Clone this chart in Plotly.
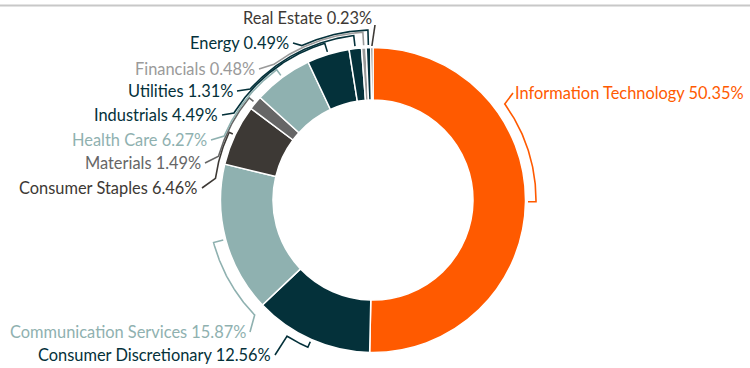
import numpy as np
import plotly.graph_objects as go

# Sector weights of the portfolio (percent), clockwise from 12 o'clock
sectors = [
    "Information Technology", "Consumer Discretionary", "Communication Services",
    "Consumer Staples", "Materials", "Health Care", "Industrials", "Utilities",
    "Financials", "Energy", "Real Estate",
]
weights = [50.35, 12.56, 15.87, 6.46, 1.49, 6.27, 4.49, 1.31, 0.48, 0.49, 0.23]
slice_colors = [
    "#FF5A00", "#04313A", "#8FB1B0", "#3D3935", "#666666", "#8FB1B0",
    "#04313A", "#04313A", "#9A9A9A", "#04313A", "#3D3935",
]

# ---- layout (pixels) ----
W, H = 750, 368
CX, CY = 373.0, 200.0
R_OUT, R_IN = 152.5, 100.0
FONT = "Lato"
FONT_SIZE = 16.4

# label anchor: right end for left-side labels, left end for right-side labels
label_side = ["right", "left", "left", "left", "left", "left", "left", "left", "left", "left", "left"]
label_xy = [(513, 92), (273, 354), (248, 331), (200, 187), (203, 162), (209, 139),
            (220, 114), (235, 90), (257, 68), (291, 42), (374, 17)]
# bracket radius and vertical offset of the point where the connector meets it
bracket_r = [163, 161, 165, 159, 160.5, 162, 164, 165.5, 168, 170, None]
attach_dy = [12, -18, -16, -8, -5, -3, -1, -1, -3, 4, None]
TICK_R = R_OUT + 2.5


def polar(theta_deg, r):
    t = np.radians(theta_deg)
    return CX + r * np.sin(t), CY - r * np.cos(t)


def angle_of(x, y):
    return np.degrees(np.arctan2(x - CX, -(y - CY))) % 360


total = sum(weights)
cum = np.cumsum([0] + weights[:-1])
mid_angles = [(c + w / 2) / total * 360 for c, w in zip(cum, weights)]

fig = go.Figure()

fig.add_trace(go.Pie(
    labels=sectors,
    values=weights,
    sort=False,
    direction="clockwise",
    rotation=0,
    hole=R_IN / R_OUT,
    marker=dict(colors=slice_colors, line=dict(color="white", width=1.5)),
    textinfo="none",
    hoverinfo="label+percent",
    showlegend=False,
    domain=dict(x=[(CX - R_OUT) / W, (CX + R_OUT) / W],
                y=[1 - (CY + R_OUT) / H, 1 - (CY - R_OUT) / H]),
))

# bracket connectors, computed from each slice's mid angle
for i, name in enumerate(sectors):
    col = slice_colors[i]
    lx, ly = label_xy[i]
    mid = mid_angles[i]
    if bracket_r[i] is None:
        sx, sy = lx + 1, ly + 8
        ex, ey = polar(mid, R_OUT + 1.5)
        xs, ys = [sx, ex], [sy, ey]
    else:
        rb = bracket_r[i]
        ay = ly + attach_dy[i]
        half = np.sqrt(max(rb ** 2 - (ay - CY) ** 2, 0))
        if label_side[i] == "right":
            ax = CX + half
            sx = lx
        else:
            ax = CX - half
            sx = lx + 2
        a0 = angle_of(ax, ay)
        a1 = mid
        # keep the arc on the short way round
        if a1 - a0 > 180:
            a0 += 360
        elif a0 - a1 > 180:
            a1 += 360
        th = np.linspace(a0, a1, 80)
        arc_x, arc_y = polar(th, rb)
        tx, ty = polar(mid, TICK_R)
        xs = [sx] + list(arc_x) + [tx]
        ys = [ly + 1] + list(arc_y) + [ty]
    fig.add_trace(go.Scatter(
        x=xs, y=ys, mode="lines",
        line=dict(color=col, width=1.6),
        hoverinfo="skip", showlegend=False,
    ))

    fig.add_annotation(
        x=lx, y=ly, xref="x", yref="y",
        text=f"{name} {weights[i]:.2f}%",
        showarrow=False,
        xanchor="left" if label_side[i] == "right" else "right",
        yanchor="middle",
        font=dict(family=FONT, size=FONT_SIZE, color=col),
    )

fig.add_shape(type="line", xref="x", yref="y", x0=0, x1=W, y0=5.5, y1=5.5,
              line=dict(color="#C8C8C8", width=2))

fig.update_layout(
    width=W, height=H,
    margin=dict(l=0, r=0, t=0, b=0),
    paper_bgcolor="white", plot_bgcolor="white",
    xaxis=dict(range=[0, W], visible=False, fixedrange=True, domain=[0, 1]),
    yaxis=dict(range=[H, 0], visible=False, fixedrange=True, domain=[0, 1]),
)

fig.write_html("out.html")
